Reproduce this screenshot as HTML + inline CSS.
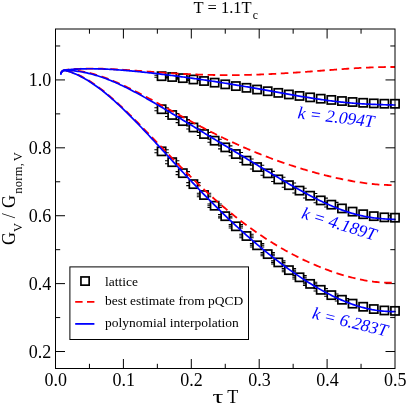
<!DOCTYPE html>
<html><head><meta charset="utf-8"><style>
html,body{margin:0;padding:0;background:#fff;}
svg{display:block;will-change:transform;font-family:"Liberation Serif",serif;}
</style></head><body>
<svg width="407" height="405" viewBox="0 0 407 405">
<rect width="407" height="405" fill="#fff"/>
<path d="M89.45,368.5 v-4.7 M89.45,29.0 v4.7 M123.40,368.5 v-9.5 M123.40,29.0 v9.5 M157.35,368.5 v-4.7 M157.35,29.0 v4.7 M191.30,368.5 v-9.5 M191.30,29.0 v9.5 M225.25,368.5 v-4.7 M225.25,29.0 v4.7 M259.20,368.5 v-9.5 M259.20,29.0 v9.5 M293.15,368.5 v-4.7 M293.15,29.0 v4.7 M327.10,368.5 v-9.5 M327.10,29.0 v9.5 M361.05,368.5 v-4.7 M361.05,29.0 v4.7 M55.5,351.52 h9.5 M395.0,351.52 h-9.5 M55.5,317.57 h4.7 M395.0,317.57 h-4.7 M55.5,283.62 h9.5 M395.0,283.62 h-9.5 M55.5,249.68 h4.7 M395.0,249.68 h-4.7 M55.5,215.72 h9.5 M395.0,215.72 h-9.5 M55.5,181.78 h4.7 M395.0,181.78 h-4.7 M55.5,147.82 h9.5 M395.0,147.82 h-9.5 M55.5,113.87 h4.7 M395.0,113.87 h-4.7 M55.5,79.93 h9.5 M395.0,79.93 h-9.5 M55.5,45.97 h4.7 M395.0,45.97 h-4.7" stroke="#000" stroke-width="1" fill="none"/>
<path d="M154.39,75.19 h14.4 M154.39,77.19 h14.4 M165.00,76.01 h14.4 M165.00,78.01 h14.4 M175.61,77.13 h14.4 M175.61,79.13 h14.4 M186.22,78.49 h14.4 M186.22,80.49 h14.4" stroke="#000" stroke-width="1.05" fill="none"/>
<g fill="#fff" stroke="#000" stroke-width="1.7"><rect x="157.49" y="72.09" width="8.2" height="8.2"/><rect x="168.10" y="72.91" width="8.2" height="8.2"/><rect x="178.71" y="74.03" width="8.2" height="8.2"/><rect x="189.32" y="75.39" width="8.2" height="8.2"/><rect x="199.93" y="76.91" width="8.2" height="8.2"/><rect x="210.54" y="78.55" width="8.2" height="8.2"/><rect x="221.15" y="80.25" width="8.2" height="8.2"/><rect x="231.76" y="81.98" width="8.2" height="8.2"/><rect x="242.37" y="83.72" width="8.2" height="8.2"/><rect x="252.98" y="85.44" width="8.2" height="8.2"/><rect x="263.59" y="87.12" width="8.2" height="8.2"/><rect x="274.20" y="88.76" width="8.2" height="8.2"/><rect x="284.81" y="90.34" width="8.2" height="8.2"/><rect x="295.42" y="91.84" width="8.2" height="8.2"/><rect x="306.02" y="93.26" width="8.2" height="8.2"/><rect x="316.63" y="94.60" width="8.2" height="8.2"/><rect x="327.24" y="95.83" width="8.2" height="8.2"/><rect x="337.85" y="96.93" width="8.2" height="8.2"/><rect x="348.46" y="97.90" width="8.2" height="8.2"/><rect x="359.07" y="98.69" width="8.2" height="8.2"/><rect x="369.68" y="99.29" width="8.2" height="8.2"/><rect x="380.29" y="99.63" width="8.2" height="8.2"/><rect x="390.90" y="99.67" width="8.2" height="8.2"/></g>
<path d="M154.39,107.71 h14.4 M154.39,110.71 h14.4 M165.00,113.48 h14.4 M165.00,116.48 h14.4 M175.61,119.60 h14.4 M175.61,122.60 h14.4 M186.22,125.98 h14.4 M186.22,128.98 h14.4 M196.83,132.53 h14.4 M196.83,135.53 h14.4 M207.44,139.19 h14.4 M207.44,142.19 h14.4 M218.05,145.88 h14.4 M218.05,148.88 h14.4 M228.66,152.44 h14.4 M228.66,155.66 h14.4 M239.27,158.90 h14.4 M239.27,162.36 h14.4 M249.88,165.24 h14.4 M249.88,168.93 h14.4 M260.49,171.39 h14.4 M260.49,175.31 h14.4 M271.10,177.32 h14.4 M271.10,181.46 h14.4 M281.71,182.97 h14.4 M281.71,187.34 h14.4 M292.32,188.31 h14.4 M292.32,192.91 h14.4 M302.93,193.41 h14.4 M302.93,198.01 h14.4 M313.53,198.11 h14.4 M313.53,202.71 h14.4 M324.14,202.36 h14.4 M324.14,206.96 h14.4" stroke="#000" stroke-width="1.05" fill="none"/>
<g fill="#fff" stroke="#000" stroke-width="1.7"><rect x="157.49" y="105.11" width="8.2" height="8.2"/><rect x="168.10" y="110.88" width="8.2" height="8.2"/><rect x="178.71" y="117.00" width="8.2" height="8.2"/><rect x="189.32" y="123.38" width="8.2" height="8.2"/><rect x="199.93" y="129.93" width="8.2" height="8.2"/><rect x="210.54" y="136.59" width="8.2" height="8.2"/><rect x="221.15" y="143.28" width="8.2" height="8.2"/><rect x="231.76" y="149.95" width="8.2" height="8.2"/><rect x="242.37" y="156.53" width="8.2" height="8.2"/><rect x="252.98" y="162.98" width="8.2" height="8.2"/><rect x="263.59" y="169.25" width="8.2" height="8.2"/><rect x="274.20" y="175.29" width="8.2" height="8.2"/><rect x="284.81" y="181.06" width="8.2" height="8.2"/><rect x="295.42" y="186.51" width="8.2" height="8.2"/><rect x="306.02" y="191.61" width="8.2" height="8.2"/><rect x="316.63" y="196.31" width="8.2" height="8.2"/><rect x="327.24" y="200.56" width="8.2" height="8.2"/><rect x="337.85" y="204.32" width="8.2" height="8.2"/><rect x="348.46" y="207.52" width="8.2" height="8.2"/><rect x="359.07" y="210.12" width="8.2" height="8.2"/><rect x="369.68" y="212.05" width="8.2" height="8.2"/><rect x="380.29" y="213.24" width="8.2" height="8.2"/><rect x="390.90" y="213.61" width="8.2" height="8.2"/></g>
<path d="M154.39,149.84 h14.4 M154.39,152.84 h14.4 M165.00,160.66 h14.4 M165.00,163.66 h14.4 M175.61,171.63 h14.4 M175.61,174.63 h14.4 M186.22,182.62 h14.4 M186.22,185.62 h14.4 M196.83,193.32 h14.4 M196.83,195.02 h14.4 M196.83,196.72 h14.4 M207.44,204.03 h14.4 M207.44,205.73 h14.4 M207.44,207.43 h14.4 M218.05,214.48 h14.4 M218.05,216.18 h14.4 M218.05,217.88 h14.4 M228.66,224.60 h14.4 M228.66,226.30 h14.4 M228.66,228.00 h14.4 M239.27,234.32 h14.4 M239.27,236.02 h14.4 M239.27,237.72 h14.4 M249.88,243.60 h14.4 M249.88,245.30 h14.4 M249.88,247.00 h14.4 M260.49,252.40 h14.4 M260.49,254.10 h14.4 M260.49,255.80 h14.4 M271.10,260.69 h14.4 M271.10,262.39 h14.4 M271.10,264.09 h14.4 M281.71,268.43 h14.4 M281.71,270.13 h14.4 M281.71,271.83 h14.4 M292.32,275.60 h14.4 M292.32,277.30 h14.4 M292.32,279.00 h14.4 M302.93,282.18 h14.4 M302.93,283.88 h14.4 M302.93,285.58 h14.4 M313.53,288.63 h14.4 M313.53,291.03 h14.4 M324.14,293.93 h14.4 M324.14,296.33 h14.4 M334.75,298.55 h14.4 M334.75,300.95 h14.4" stroke="#000" stroke-width="1.05" fill="none"/>
<g fill="#fff" stroke="#000" stroke-width="1.7"><rect x="157.49" y="147.24" width="8.2" height="8.2"/><rect x="168.10" y="158.06" width="8.2" height="8.2"/><rect x="178.71" y="169.03" width="8.2" height="8.2"/><rect x="189.32" y="180.02" width="8.2" height="8.2"/><rect x="199.93" y="190.92" width="8.2" height="8.2"/><rect x="210.54" y="201.63" width="8.2" height="8.2"/><rect x="221.15" y="212.08" width="8.2" height="8.2"/><rect x="231.76" y="222.20" width="8.2" height="8.2"/><rect x="242.37" y="231.92" width="8.2" height="8.2"/><rect x="252.98" y="241.20" width="8.2" height="8.2"/><rect x="263.59" y="250.00" width="8.2" height="8.2"/><rect x="274.20" y="258.29" width="8.2" height="8.2"/><rect x="284.81" y="266.03" width="8.2" height="8.2"/><rect x="295.42" y="273.20" width="8.2" height="8.2"/><rect x="306.02" y="279.78" width="8.2" height="8.2"/><rect x="316.63" y="285.73" width="8.2" height="8.2"/><rect x="327.24" y="291.03" width="8.2" height="8.2"/><rect x="337.85" y="295.65" width="8.2" height="8.2"/><rect x="348.46" y="299.54" width="8.2" height="8.2"/><rect x="359.07" y="302.66" width="8.2" height="8.2"/><rect x="369.68" y="304.95" width="8.2" height="8.2"/><rect x="380.29" y="306.36" width="8.2" height="8.2"/><rect x="390.90" y="306.79" width="8.2" height="8.2"/></g>
<path d="M390.5,317.4 h4" stroke="#222" stroke-width="1" fill="none"/>
<path d="M60.90,73.80 L61.34,72.47 L62.15,71.29 L63.27,70.45 L64.61,70.03 L66.03,69.83 L67.45,69.68 L68.84,69.54 L70.23,69.41 L71.63,69.30 L73.04,69.19 L74.45,69.09 L75.85,69.00 L77.26,68.92 L78.66,68.85 L80.07,68.79 L81.48,68.73 L82.88,68.69 L84.29,68.65 L85.70,68.62 L87.11,68.60 L88.51,68.58 L89.92,68.57 L91.33,68.57 L92.74,68.57 L94.15,68.58 L95.55,68.60 L96.96,68.62 L98.37,68.65 L99.78,68.68 L101.18,68.72 L102.59,68.76 L104.00,68.81 L105.41,68.86 L106.81,68.91 L108.22,68.97 L109.63,69.03 L111.03,69.10 L112.44,69.17 L113.84,69.24 L115.25,69.32 L116.66,69.40 L118.06,69.48 L119.47,69.56 L120.87,69.65 L122.28,69.74 L123.68,69.83 L125.09,69.92 L126.49,70.01 L127.90,70.11 L129.30,70.20 L130.71,70.30 L132.11,70.40 L133.51,70.50 L134.92,70.60 L136.32,70.70 L137.73,70.81 L139.13,70.91 L140.54,71.01 L141.94,71.12 L143.34,71.22 L144.75,71.32 L146.15,71.43 L147.56,71.53 L148.96,71.64 L150.36,71.74 L151.77,71.84 L153.17,71.95 L154.58,72.05 L155.98,72.15 L157.38,72.25 L158.79,72.35 L160.19,72.45 L161.60,72.55 L163.00,72.64 L164.41,72.74 L165.81,72.84 L167.22,72.93 L168.62,73.02 L170.03,73.11 L171.43,73.20 L172.84,73.29 L174.24,73.37 L175.65,73.46 L177.05,73.54 L178.46,73.62 L179.86,73.70 L181.27,73.78 L182.68,73.86 L184.08,73.93 L185.49,74.00 L186.89,74.07 L188.30,74.14 L189.71,74.21 L191.11,74.27 L192.52,74.33 L193.93,74.39 L195.33,74.45 L196.74,74.50 L198.15,74.55 L199.55,74.61 L200.96,74.65 L202.37,74.70 L203.77,74.74 L205.18,74.78 L206.59,74.82 L208.00,74.86 L209.40,74.89 L210.81,74.92 L212.22,74.95 L213.63,74.98 L215.04,75.00 L216.44,75.03 L217.85,75.05 L219.26,75.06 L220.67,75.08 L222.07,75.09 L223.48,75.10 L224.89,75.10 L226.30,75.11 L227.71,75.11 L229.11,75.11 L230.52,75.11 L231.93,75.10 L233.34,75.09 L234.75,75.08 L236.15,75.07 L237.56,75.05 L238.97,75.04 L240.38,75.02 L241.78,74.99 L243.19,74.97 L244.60,74.94 L246.01,74.91 L247.41,74.88 L248.82,74.84 L250.23,74.81 L251.64,74.77 L253.04,74.73 L254.45,74.68 L255.86,74.64 L257.27,74.59 L258.67,74.54 L260.08,74.49 L261.49,74.43 L262.89,74.38 L264.30,74.32 L265.71,74.26 L267.11,74.20 L268.52,74.13 L269.93,74.07 L271.33,74.00 L272.74,73.93 L274.14,73.86 L275.55,73.78 L276.96,73.71 L278.36,73.63 L279.77,73.55 L281.17,73.47 L282.58,73.39 L283.98,73.30 L285.39,73.22 L286.79,73.13 L288.20,73.04 L289.60,72.96 L291.01,72.86 L292.41,72.77 L293.82,72.68 L295.22,72.58 L296.63,72.49 L298.03,72.39 L299.44,72.29 L300.84,72.19 L302.25,72.10 L303.65,71.99 L305.06,71.89 L306.46,71.79 L307.86,71.69 L309.27,71.58 L310.67,71.48 L312.08,71.37 L313.48,71.27 L314.88,71.16 L316.29,71.06 L317.69,70.95 L319.09,70.84 L320.50,70.74 L321.90,70.63 L323.31,70.52 L324.71,70.42 L326.11,70.31 L327.52,70.20 L328.92,70.10 L330.33,69.99 L331.73,69.88 L333.13,69.78 L334.54,69.67 L335.94,69.57 L337.35,69.46 L338.75,69.36 L340.15,69.26 L341.56,69.16 L342.96,69.06 L344.37,68.96 L345.77,68.86 L347.18,68.77 L348.58,68.67 L349.99,68.58 L351.39,68.49 L352.80,68.40 L354.20,68.31 L355.61,68.22 L357.01,68.14 L358.42,68.05 L359.82,67.97 L361.23,67.89 L362.63,67.82 L364.04,67.74 L365.45,67.67 L366.85,67.61 L368.26,67.54 L369.67,67.48 L371.07,67.42 L372.48,67.36 L373.89,67.31 L375.29,67.26 L376.70,67.22 L378.11,67.17 L379.51,67.14 L380.92,67.10 L382.33,67.07 L383.74,67.04 L385.14,67.02 L386.55,67.01 L387.96,66.99 L389.37,66.99 L390.78,66.98 L392.18,66.99 L393.59,66.99 L395.00,67.01" fill="none" stroke="#f00" stroke-width="1.8" stroke-dasharray="7.6 4.6" stroke-dashoffset="-2.5"/>
<path d="M60.90,73.80 L61.38,72.39 L62.28,71.13 L63.54,70.39 L65.04,70.22 L66.59,70.24 L68.10,70.24 L69.59,70.24 L71.08,70.28 L72.58,70.36 L74.08,70.47 L75.58,70.61 L77.08,70.77 L78.57,70.95 L80.05,71.16 L81.54,71.39 L83.02,71.64 L84.50,71.92 L85.97,72.21 L87.44,72.53 L88.90,72.86 L90.36,73.22 L91.82,73.59 L93.27,73.98 L94.72,74.39 L96.16,74.81 L97.60,75.25 L99.03,75.70 L100.46,76.16 L101.88,76.64 L103.30,77.14 L104.72,77.64 L106.13,78.16 L107.53,78.69 L108.94,79.23 L110.33,79.78 L111.73,80.34 L113.12,80.91 L114.50,81.49 L115.89,82.07 L117.27,82.67 L118.64,83.27 L120.01,83.89 L121.38,84.51 L122.75,85.13 L124.11,85.76 L125.47,86.40 L126.83,87.05 L128.18,87.70 L129.53,88.36 L130.88,89.02 L132.23,89.68 L133.57,90.36 L134.92,91.03 L136.26,91.71 L137.59,92.40 L138.93,93.08 L140.26,93.77 L141.60,94.47 L142.93,95.17 L144.25,95.87 L145.58,96.57 L146.91,97.28 L148.23,97.99 L149.56,98.70 L150.88,99.41 L152.20,100.12 L153.52,100.84 L154.84,101.56 L156.16,102.28 L157.48,103.00 L158.80,103.72 L160.11,104.44 L161.43,105.17 L162.75,105.89 L164.06,106.61 L165.38,107.34 L166.70,108.07 L168.01,108.79 L169.33,109.52 L170.64,110.24 L171.96,110.97 L173.27,111.69 L174.59,112.42 L175.90,113.14 L177.22,113.87 L178.54,114.59 L179.86,115.31 L181.17,116.04 L182.49,116.76 L183.81,117.48 L185.13,118.20 L186.45,118.91 L187.77,119.63 L189.09,120.34 L190.41,121.06 L191.74,121.77 L193.06,122.48 L194.39,123.19 L195.71,123.89 L197.04,124.60 L198.37,125.30 L199.70,126.00 L201.03,126.70 L202.36,127.40 L203.69,128.09 L205.03,128.78 L206.36,129.47 L207.70,130.16 L209.03,130.84 L210.37,131.52 L211.71,132.20 L213.05,132.88 L214.40,133.55 L215.74,134.22 L217.09,134.89 L218.44,135.56 L219.78,136.22 L221.13,136.88 L222.49,137.53 L223.84,138.19 L225.19,138.84 L226.55,139.48 L227.91,140.13 L229.27,140.77 L230.63,141.40 L231.99,142.03 L233.36,142.66 L234.72,143.29 L236.09,143.91 L237.46,144.53 L238.83,145.15 L240.20,145.76 L241.57,146.37 L242.95,146.97 L244.33,147.58 L245.70,148.17 L247.08,148.77 L248.47,149.36 L249.85,149.94 L251.23,150.53 L252.62,151.10 L254.01,151.68 L255.40,152.25 L256.79,152.82 L258.18,153.38 L259.58,153.94 L260.97,154.50 L262.37,155.05 L263.77,155.60 L265.17,156.14 L266.57,156.68 L267.98,157.21 L269.38,157.75 L270.79,158.27 L272.20,158.80 L273.61,159.32 L275.02,159.83 L276.43,160.35 L277.84,160.85 L279.26,161.36 L280.68,161.86 L282.09,162.35 L283.51,162.84 L284.94,163.33 L286.36,163.81 L287.78,164.29 L289.21,164.77 L290.63,165.24 L292.06,165.71 L293.49,166.17 L294.92,166.63 L296.35,167.08 L297.79,167.53 L299.22,167.98 L300.66,168.42 L302.09,168.86 L303.53,169.30 L304.97,169.73 L306.41,170.15 L307.86,170.57 L309.30,170.99 L310.74,171.40 L312.19,171.81 L313.64,172.21 L315.09,172.61 L316.54,173.01 L317.99,173.40 L319.44,173.79 L320.89,174.17 L322.35,174.54 L323.80,174.92 L325.26,175.28 L326.72,175.65 L328.18,176.00 L329.64,176.36 L331.10,176.71 L332.56,177.05 L334.02,177.39 L335.49,177.72 L336.96,178.05 L338.42,178.37 L339.89,178.69 L341.36,179.00 L342.83,179.30 L344.30,179.60 L345.78,179.90 L347.25,180.18 L348.73,180.47 L350.21,180.74 L351.68,181.01 L353.16,181.27 L354.64,181.53 L356.13,181.78 L357.61,182.02 L359.09,182.25 L360.58,182.48 L362.06,182.70 L363.55,182.91 L365.04,183.11 L366.53,183.31 L368.02,183.49 L369.51,183.67 L371.01,183.84 L372.50,183.99 L374.00,184.14 L375.49,184.28 L376.99,184.41 L378.49,184.53 L379.99,184.64 L381.48,184.73 L382.98,184.82 L384.49,184.89 L385.99,184.95 L387.49,185.00 L388.99,185.03 L390.49,185.06 L392.00,185.06 L393.50,185.06 L395.00,185.04" fill="none" stroke="#f00" stroke-width="1.8" stroke-dasharray="7.6 4.6" stroke-dashoffset="-6.5"/>
<path d="M60.90,73.80 L61.48,72.21 L62.59,70.84 L64.15,70.38 L65.92,70.64 L67.62,71.05 L69.25,71.49 L70.86,71.99 L72.48,72.53 L74.09,73.12 L75.68,73.76 L77.25,74.42 L78.80,75.13 L80.34,75.87 L81.87,76.64 L83.38,77.43 L84.87,78.26 L86.35,79.11 L87.82,79.98 L89.28,80.88 L90.72,81.80 L92.14,82.74 L93.56,83.69 L94.96,84.66 L96.36,85.65 L97.74,86.65 L99.11,87.67 L100.47,88.70 L101.83,89.75 L103.17,90.80 L104.50,91.87 L105.83,92.94 L107.15,94.03 L108.46,95.13 L109.76,96.23 L111.05,97.34 L112.34,98.47 L113.63,99.59 L114.90,100.73 L116.17,101.87 L117.44,103.02 L118.70,104.17 L119.95,105.33 L121.20,106.50 L122.44,107.67 L123.68,108.84 L124.92,110.02 L126.15,111.20 L127.38,112.39 L128.60,113.58 L129.82,114.78 L131.04,115.97 L132.26,117.17 L133.47,118.38 L134.68,119.58 L135.88,120.79 L137.09,122.00 L138.29,123.22 L139.49,124.43 L140.69,125.65 L141.88,126.87 L143.08,128.09 L144.27,129.31 L145.47,130.53 L146.66,131.76 L147.85,132.98 L149.03,134.21 L150.22,135.44 L151.41,136.66 L152.60,137.89 L153.78,139.12 L154.97,140.35 L156.15,141.58 L157.34,142.81 L158.53,144.04 L159.71,145.27 L160.90,146.50 L162.08,147.73 L163.27,148.95 L164.46,150.18 L165.64,151.41 L166.83,152.64 L168.02,153.86 L169.21,155.09 L170.40,156.31 L171.59,157.54 L172.79,158.76 L173.98,159.98 L175.17,161.20 L176.37,162.42 L177.57,163.64 L178.77,164.85 L179.97,166.07 L181.17,167.28 L182.38,168.49 L183.58,169.70 L184.79,170.91 L186.00,172.11 L187.21,173.31 L188.43,174.52 L189.65,175.71 L190.86,176.91 L192.09,178.10 L193.31,179.30 L194.54,180.49 L195.76,181.67 L197.00,182.86 L198.23,184.04 L199.47,185.21 L200.71,186.39 L201.95,187.56 L203.19,188.73 L204.44,189.90 L205.69,191.06 L206.95,192.22 L208.20,193.37 L209.47,194.53 L210.73,195.67 L212.00,196.82 L213.27,197.96 L214.54,199.10 L215.82,200.23 L217.10,201.36 L218.38,202.49 L219.67,203.61 L220.97,204.72 L222.26,205.84 L223.56,206.94 L224.86,208.05 L226.17,209.15 L227.48,210.24 L228.80,211.33 L230.12,212.42 L231.44,213.50 L232.77,214.57 L234.10,215.64 L235.43,216.71 L236.77,217.77 L238.11,218.82 L239.46,219.87 L240.81,220.92 L242.17,221.95 L243.53,222.99 L244.89,224.01 L246.26,225.04 L247.64,226.05 L249.01,227.06 L250.40,228.06 L251.78,229.06 L253.17,230.05 L254.57,231.04 L255.97,232.02 L257.37,232.99 L258.78,233.96 L260.19,234.91 L261.61,235.87 L263.03,236.81 L264.46,237.75 L265.89,238.69 L267.33,239.61 L268.77,240.53 L270.21,241.44 L271.66,242.35 L273.11,243.24 L274.57,244.14 L276.03,245.02 L277.50,245.89 L278.97,246.76 L280.44,247.62 L281.92,248.48 L283.41,249.32 L284.90,250.16 L286.39,250.99 L287.88,251.81 L289.39,252.63 L290.89,253.43 L292.40,254.23 L293.92,255.02 L295.43,255.80 L296.96,256.58 L298.48,257.34 L300.01,258.10 L301.55,258.85 L303.09,259.59 L304.63,260.32 L306.18,261.04 L307.73,261.76 L309.29,262.46 L310.84,263.16 L312.41,263.85 L313.98,264.53 L315.55,265.20 L317.12,265.86 L318.70,266.51 L320.28,267.15 L321.87,267.78 L323.46,268.40 L325.06,269.01 L326.66,269.62 L328.26,270.21 L329.86,270.79 L331.47,271.36 L333.09,271.92 L334.70,272.47 L336.32,273.01 L337.95,273.54 L339.58,274.05 L341.21,274.56 L342.84,275.05 L344.48,275.53 L346.12,276.00 L347.77,276.46 L349.42,276.90 L351.07,277.33 L352.73,277.75 L354.39,278.15 L356.05,278.54 L357.72,278.92 L359.39,279.28 L361.06,279.62 L362.73,279.96 L364.41,280.27 L366.10,280.57 L367.78,280.85 L369.47,281.12 L371.16,281.36 L372.85,281.59 L374.54,281.80 L376.24,281.99 L377.94,282.17 L379.64,282.32 L381.35,282.45 L383.05,282.56 L384.76,282.65 L386.46,282.71 L388.17,282.75 L389.88,282.77 L391.59,282.76 L393.29,282.73 L395.00,282.68" fill="none" stroke="#f00" stroke-width="1.8" stroke-dasharray="7.6 4.6" stroke-dashoffset="5.2"/>
<path d="M60.90,73.80 L61.34,72.46 L62.16,71.27 L63.30,70.45 L64.65,70.07 L66.10,69.91 L67.52,69.78 L68.92,69.64 L70.32,69.52 L71.73,69.40 L73.15,69.30 L74.57,69.21 L75.98,69.13 L77.39,69.05 L78.81,68.99 L80.22,68.93 L81.64,68.88 L83.06,68.84 L84.47,68.81 L85.89,68.78 L87.30,68.77 L88.72,68.76 L90.14,68.75 L91.55,68.76 L92.97,68.77 L94.39,68.78 L95.80,68.81 L97.22,68.84 L98.64,68.87 L100.05,68.91 L101.47,68.96 L102.88,69.01 L104.30,69.07 L105.71,69.13 L107.13,69.19 L108.54,69.27 L109.96,69.34 L111.37,69.42 L112.79,69.51 L114.20,69.60 L115.61,69.69 L117.03,69.79 L118.44,69.89 L119.85,69.99 L121.26,70.10 L122.68,70.21 L124.09,70.32 L125.50,70.44 L126.91,70.56 L128.32,70.68 L129.73,70.81 L131.14,70.94 L132.56,71.07 L133.97,71.20 L135.38,71.34 L136.78,71.48 L138.19,71.62 L139.60,71.76 L141.01,71.91 L142.42,72.05 L143.83,72.20 L145.24,72.35 L146.65,72.51 L148.06,72.66 L149.46,72.82 L150.87,72.97 L152.28,73.13 L153.69,73.30 L155.09,73.46 L156.50,73.62 L157.91,73.79 L159.31,73.96 L160.72,74.13 L162.13,74.30 L163.53,74.47 L164.94,74.64 L166.34,74.81 L167.75,74.99 L169.15,75.17 L170.56,75.35 L171.96,75.52 L173.37,75.71 L174.77,75.89 L176.18,76.07 L177.58,76.25 L178.99,76.44 L180.39,76.63 L181.80,76.81 L183.20,77.00 L184.60,77.19 L186.01,77.39 L187.41,77.58 L188.81,77.77 L190.22,77.97 L191.62,78.16 L193.02,78.36 L194.43,78.56 L195.83,78.76 L197.23,78.96 L198.63,79.16 L200.03,79.36 L201.44,79.57 L202.84,79.77 L204.24,79.98 L205.64,80.19 L207.04,80.39 L208.44,80.60 L209.84,80.82 L211.24,81.03 L212.64,81.24 L214.04,81.46 L215.44,81.67 L216.84,81.89 L218.24,82.11 L219.64,82.33 L221.04,82.55 L222.44,82.77 L223.84,82.99 L225.24,83.22 L226.64,83.44 L228.03,83.67 L229.43,83.90 L230.83,84.13 L232.23,84.36 L233.63,84.59 L235.02,84.82 L236.42,85.05 L237.82,85.29 L239.21,85.52 L240.61,85.76 L242.01,86.00 L243.40,86.24 L244.80,86.48 L246.20,86.72 L247.59,86.96 L248.99,87.20 L250.38,87.44 L251.78,87.68 L253.17,87.93 L254.57,88.17 L255.96,88.42 L257.36,88.67 L258.75,88.91 L260.15,89.16 L261.54,89.41 L262.94,89.66 L264.33,89.91 L265.73,90.15 L267.12,90.40 L268.52,90.65 L269.91,90.90 L271.30,91.15 L272.70,91.40 L274.09,91.65 L275.49,91.90 L276.88,92.15 L278.28,92.40 L279.67,92.65 L281.07,92.90 L282.46,93.15 L283.85,93.40 L285.25,93.64 L286.64,93.89 L288.04,94.14 L289.43,94.38 L290.83,94.63 L292.23,94.87 L293.62,95.11 L295.02,95.35 L296.41,95.59 L297.81,95.83 L299.21,96.07 L300.60,96.30 L302.00,96.54 L303.40,96.77 L304.79,97.00 L306.19,97.23 L307.59,97.45 L308.99,97.68 L310.39,97.90 L311.79,98.12 L313.19,98.34 L314.59,98.55 L315.99,98.76 L317.39,98.97 L318.79,99.18 L320.19,99.38 L321.59,99.58 L323.00,99.78 L324.40,99.98 L325.80,100.17 L327.21,100.36 L328.61,100.54 L330.02,100.73 L331.42,100.90 L332.83,101.08 L334.23,101.25 L335.64,101.42 L337.05,101.58 L338.46,101.74 L339.86,101.90 L341.27,102.05 L342.68,102.19 L344.09,102.34 L345.50,102.48 L346.91,102.61 L348.32,102.74 L349.73,102.87 L351.14,102.99 L352.55,103.11 L353.97,103.23 L355.38,103.34 L356.79,103.44 L358.20,103.54 L359.62,103.64 L361.03,103.73 L362.44,103.82 L363.86,103.91 L365.27,103.99 L366.69,104.06 L368.10,104.14 L369.52,104.21 L370.93,104.27 L372.35,104.33 L373.76,104.39 L375.18,104.45 L376.59,104.50 L378.01,104.55 L379.42,104.60 L380.84,104.64 L382.26,104.69 L383.67,104.73 L385.09,104.77 L386.50,104.80 L387.92,104.84 L389.34,104.87 L390.75,104.91 L392.17,104.94 L393.58,104.98 L395.00,105.01" fill="none" stroke="#00f" stroke-width="1.7" stroke-linecap="round" stroke-linejoin="round"/>
<path d="M60.90,73.80 L61.41,72.34 L62.36,71.05 L63.70,70.36 L65.28,70.27 L66.89,70.35 L68.44,70.43 L69.98,70.51 L71.53,70.62 L73.08,70.76 L74.64,70.92 L76.19,71.10 L77.73,71.30 L79.27,71.52 L80.81,71.77 L82.35,72.03 L83.88,72.32 L85.41,72.63 L86.93,72.95 L88.45,73.30 L89.97,73.66 L91.48,74.05 L92.98,74.45 L94.48,74.87 L95.98,75.31 L97.47,75.76 L98.96,76.23 L100.44,76.72 L101.91,77.22 L103.39,77.73 L104.85,78.26 L106.31,78.81 L107.77,79.37 L109.22,79.94 L110.66,80.52 L112.10,81.11 L113.54,81.72 L114.97,82.33 L116.40,82.96 L117.82,83.60 L119.24,84.24 L120.65,84.90 L122.06,85.56 L123.47,86.24 L124.87,86.92 L126.27,87.61 L127.66,88.30 L129.06,89.01 L130.44,89.72 L131.83,90.43 L133.21,91.15 L134.59,91.88 L135.96,92.61 L137.33,93.35 L138.70,94.10 L140.07,94.85 L141.44,95.60 L142.80,96.36 L144.16,97.12 L145.52,97.88 L146.87,98.65 L148.23,99.42 L149.58,100.20 L150.93,100.97 L152.28,101.75 L153.63,102.54 L154.97,103.32 L156.32,104.11 L157.66,104.90 L159.00,105.69 L160.34,106.49 L161.68,107.28 L163.02,108.08 L164.36,108.88 L165.70,109.68 L167.04,110.48 L168.37,111.28 L169.71,112.09 L171.04,112.89 L172.38,113.70 L173.71,114.50 L175.04,115.31 L176.38,116.12 L177.71,116.92 L179.04,117.73 L180.38,118.54 L181.71,119.35 L183.04,120.16 L184.37,120.97 L185.70,121.78 L187.04,122.59 L188.37,123.40 L189.70,124.21 L191.03,125.02 L192.36,125.83 L193.69,126.64 L195.03,127.44 L196.36,128.25 L197.69,129.06 L199.02,129.87 L200.35,130.68 L201.69,131.49 L203.02,132.30 L204.35,133.11 L205.68,133.92 L207.02,134.72 L208.35,135.53 L209.68,136.34 L211.02,137.15 L212.35,137.95 L213.68,138.76 L215.02,139.57 L216.35,140.38 L217.68,141.18 L219.02,141.99 L220.35,142.79 L221.68,143.60 L223.02,144.41 L224.35,145.21 L225.69,146.02 L227.02,146.82 L228.35,147.63 L229.69,148.44 L231.02,149.24 L232.36,150.05 L233.69,150.85 L235.03,151.66 L236.36,152.46 L237.69,153.27 L239.03,154.07 L240.36,154.88 L241.70,155.68 L243.03,156.49 L244.37,157.30 L245.70,158.10 L247.04,158.91 L248.37,159.71 L249.70,160.52 L251.04,161.32 L252.37,162.13 L253.71,162.93 L255.04,163.73 L256.38,164.54 L257.71,165.34 L259.05,166.15 L260.38,166.95 L261.72,167.75 L263.06,168.56 L264.39,169.36 L265.73,170.16 L267.07,170.96 L268.40,171.76 L269.74,172.56 L271.08,173.36 L272.42,174.16 L273.76,174.96 L275.10,175.75 L276.44,176.55 L277.78,177.34 L279.12,178.14 L280.46,178.93 L281.80,179.72 L283.15,180.51 L284.49,181.30 L285.84,182.08 L287.19,182.86 L288.53,183.65 L289.88,184.43 L291.24,185.20 L292.59,185.98 L293.94,186.75 L295.30,187.52 L296.66,188.28 L298.01,189.05 L299.38,189.81 L300.74,190.56 L302.10,191.32 L303.47,192.06 L304.84,192.81 L306.21,193.55 L307.58,194.28 L308.96,195.02 L310.34,195.74 L311.72,196.46 L313.11,197.18 L314.50,197.89 L315.89,198.59 L317.28,199.29 L318.68,199.98 L320.08,200.66 L321.48,201.34 L322.89,202.00 L324.30,202.66 L325.72,203.32 L327.14,203.96 L328.56,204.60 L329.99,205.22 L331.42,205.84 L332.85,206.45 L334.29,207.04 L335.74,207.63 L337.19,208.20 L338.64,208.77 L340.10,209.32 L341.56,209.86 L343.03,210.38 L344.50,210.90 L345.98,211.40 L347.46,211.88 L348.94,212.36 L350.43,212.82 L351.93,213.26 L353.42,213.69 L354.93,214.10 L356.43,214.50 L357.94,214.88 L359.46,215.25 L360.98,215.60 L362.50,215.93 L364.03,216.25 L365.56,216.55 L367.09,216.83 L368.63,217.10 L370.16,217.35 L371.70,217.58 L373.25,217.80 L374.79,218.00 L376.34,218.18 L377.89,218.35 L379.44,218.51 L380.99,218.65 L382.55,218.77 L384.10,218.89 L385.66,218.99 L387.21,219.07 L388.77,219.15 L390.33,219.22 L391.88,219.28 L393.44,219.33 L395.00,219.38" fill="none" stroke="#00f" stroke-width="1.7" stroke-linecap="round" stroke-linejoin="round"/>
<path d="M60.90,73.80 L61.52,72.15 L62.69,70.78 L64.35,70.36 L66.18,70.66 L67.91,71.15 L69.56,71.72 L71.22,72.32 L72.88,72.94 L74.53,73.61 L76.16,74.31 L77.76,75.05 L79.36,75.82 L80.94,76.62 L82.51,77.45 L84.06,78.30 L85.60,79.18 L87.12,80.09 L88.63,81.02 L90.13,81.96 L91.62,82.93 L93.09,83.92 L94.55,84.93 L95.99,85.95 L97.43,86.99 L98.85,88.05 L100.27,89.11 L101.67,90.20 L103.06,91.29 L104.45,92.40 L105.82,93.52 L107.18,94.65 L108.54,95.79 L109.89,96.94 L111.23,98.10 L112.56,99.27 L113.89,100.45 L115.20,101.63 L116.52,102.83 L117.82,104.03 L119.12,105.23 L120.41,106.44 L121.70,107.66 L122.98,108.89 L124.25,110.12 L125.52,111.35 L126.79,112.60 L128.05,113.84 L129.31,115.09 L130.56,116.34 L131.81,117.60 L133.05,118.86 L134.29,120.13 L135.53,121.40 L136.77,122.67 L138.00,123.94 L139.23,125.22 L140.45,126.50 L141.67,127.78 L142.90,129.07 L144.11,130.36 L145.33,131.64 L146.54,132.94 L147.76,134.23 L148.97,135.52 L150.18,136.82 L151.38,138.11 L152.59,139.41 L153.80,140.71 L155.00,142.01 L156.20,143.31 L157.41,144.62 L158.61,145.92 L159.81,147.22 L161.01,148.53 L162.21,149.83 L163.41,151.14 L164.61,152.44 L165.81,153.75 L167.00,155.05 L168.20,156.36 L169.40,157.66 L170.60,158.96 L171.80,160.27 L173.00,161.57 L174.20,162.88 L175.41,164.18 L176.61,165.48 L177.81,166.78 L179.01,168.08 L180.22,169.38 L181.42,170.68 L182.63,171.98 L183.84,173.28 L185.05,174.57 L186.26,175.87 L187.47,177.16 L188.68,178.46 L189.90,179.75 L191.11,181.04 L192.33,182.32 L193.55,183.61 L194.77,184.90 L195.99,186.18 L197.21,187.46 L198.44,188.74 L199.67,190.02 L200.90,191.30 L202.13,192.57 L203.36,193.84 L204.60,195.11 L205.84,196.38 L207.08,197.65 L208.32,198.91 L209.56,200.17 L210.81,201.43 L212.06,202.69 L213.31,203.94 L214.57,205.19 L215.82,206.44 L217.08,207.69 L218.35,208.93 L219.61,210.18 L220.88,211.41 L222.15,212.65 L223.42,213.88 L224.70,215.11 L225.98,216.34 L227.26,217.57 L228.54,218.79 L229.83,220.01 L231.12,221.22 L232.41,222.43 L233.71,223.64 L235.00,224.85 L236.31,226.05 L237.61,227.25 L238.92,228.45 L240.23,229.64 L241.54,230.83 L242.86,232.01 L244.18,233.20 L245.51,234.37 L246.83,235.55 L248.16,236.72 L249.50,237.89 L250.83,239.05 L252.17,240.21 L253.52,241.37 L254.86,242.52 L256.21,243.67 L257.57,244.81 L258.92,245.95 L260.29,247.09 L261.65,248.22 L263.02,249.34 L264.39,250.47 L265.76,251.59 L267.14,252.70 L268.52,253.81 L269.91,254.91 L271.30,256.01 L272.69,257.11 L274.09,258.20 L275.49,259.28 L276.90,260.36 L278.30,261.44 L279.72,262.51 L281.13,263.58 L282.55,264.64 L283.98,265.69 L285.41,266.74 L286.84,267.78 L288.28,268.82 L289.72,269.85 L291.17,270.87 L292.61,271.89 L294.07,272.91 L295.53,273.91 L296.99,274.91 L298.46,275.91 L299.93,276.89 L301.41,277.87 L302.89,278.84 L304.38,279.81 L305.87,280.77 L307.37,281.71 L308.87,282.66 L310.37,283.59 L311.89,284.51 L313.40,285.43 L314.93,286.34 L316.45,287.24 L317.99,288.12 L319.53,289.00 L321.07,289.87 L322.62,290.73 L324.18,291.58 L325.74,292.42 L327.31,293.24 L328.88,294.06 L330.46,294.86 L332.05,295.65 L333.64,296.43 L335.24,297.19 L336.85,297.94 L338.46,298.68 L340.08,299.40 L341.70,300.11 L343.33,300.80 L344.97,301.47 L346.62,302.13 L348.27,302.77 L349.93,303.40 L351.59,304.00 L353.27,304.59 L354.94,305.16 L356.63,305.71 L358.32,306.23 L360.02,306.74 L361.73,307.22 L363.44,307.68 L365.15,308.12 L366.88,308.54 L368.61,308.93 L370.34,309.29 L372.08,309.64 L373.82,309.95 L375.57,310.24 L377.33,310.50 L379.08,310.73 L380.84,310.93 L382.61,311.11 L384.37,311.26 L386.14,311.37 L387.91,311.46 L389.68,311.52 L391.46,311.54 L393.23,311.54 L395.00,311.51" fill="none" stroke="#00f" stroke-width="1.7" stroke-linecap="round" stroke-linejoin="round"/>
<rect x="55.5" y="29.0" width="339.5" height="339.5" fill="none" stroke="#000" stroke-width="1"/>
<rect x="69.9" y="266.9" width="178.6" height="72.6" fill="#fff" stroke="#000" stroke-width="1"/>
<rect x="80.95" y="276.95" width="8.2" height="8.2" fill="none" stroke="#000" stroke-width="1.7"/>
<path d="M75.2,301.8 h19.2" stroke="#f00" stroke-width="1.8" stroke-dasharray="7.4 4.4" fill="none"/>
<path d="M75.2,323.9 h19.2" stroke="#00f" stroke-width="1.8" fill="none"/>
<g font-size="13.5" fill="#000"><text x="105" y="285.8">lattice</text><text x="105" y="305">best estimate from pQCD</text><text x="105" y="327.1">polynomial interpolation</text></g>
<text x="55.80" y="386.4" font-size="18" text-anchor="middle">0.0</text>
<text x="123.70" y="386.4" font-size="18" text-anchor="middle">0.1</text>
<text x="191.60" y="386.4" font-size="18" text-anchor="middle">0.2</text>
<text x="259.50" y="386.4" font-size="18" text-anchor="middle">0.3</text>
<text x="327.40" y="386.4" font-size="18" text-anchor="middle">0.4</text>
<text x="395.30" y="386.4" font-size="18" text-anchor="middle">0.5</text>
<text x="51.3" y="358.02" font-size="18" text-anchor="end">0.2</text>
<text x="51.3" y="290.12" font-size="18" text-anchor="end">0.4</text>
<text x="51.3" y="222.22" font-size="18" text-anchor="end">0.6</text>
<text x="51.3" y="154.32" font-size="18" text-anchor="end">0.8</text>
<text x="51.3" y="86.43" font-size="18" text-anchor="end">1.0</text>
<text x="193.6" y="12.8" font-size="16.5">T = 1.1T<tspan dy="5.8" dx="1" font-size="11.7">c</tspan></text>
<text transform="translate(212.6,403.2) scale(1.5,1.1)" font-size="18">τ</text><text x="227.2" y="403.2" font-size="18">T</text>
<text transform="translate(14.5,244.9) rotate(-90)" font-size="18">G<tspan dy="7.4" font-size="12.6">V</tspan><tspan dy="-7.4"> / </tspan><tspan dx="0.7">G</tspan><tspan dy="7.4" dx="1.3" font-size="12.6" letter-spacing="0.25">norm,</tspan><tspan dx="1.6" font-size="12.6">V</tspan></text>
<g font-size="17.4" font-style="italic" fill="#00f"><text transform="translate(297.3,118.3) rotate(6.7)">k = 2.094T</text><text transform="translate(300.7,218.0) rotate(17)">k = 4.189T</text><text transform="translate(311.4,318.3) rotate(13.7)">k = 6.283T</text></g>
</svg></body></html>
